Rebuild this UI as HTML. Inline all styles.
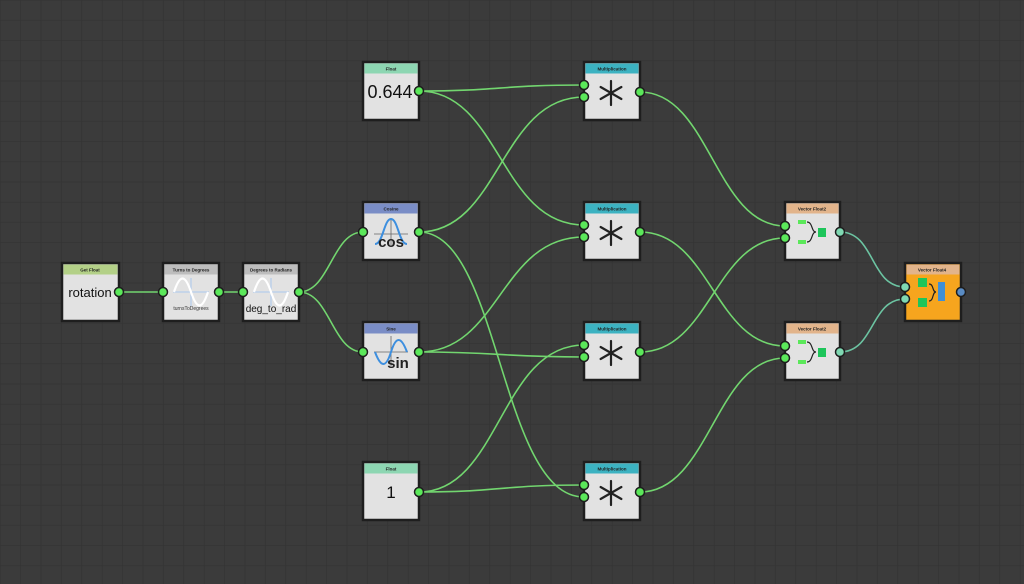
<!DOCTYPE html>
<html><head><meta charset="utf-8"><style>
html,body{margin:0;padding:0;width:1024px;height:584px;overflow:hidden;background:#3b3b3b}
</style></head><body>
<svg width="1024" height="584" xmlns="http://www.w3.org/2000/svg" font-family="Liberation Sans, sans-serif">
<defs>
<pattern id="g" width="20.4" height="20.2" patternUnits="userSpaceOnUse" x="0.5" y="0.5">
<path d="M20.4 0V20.2M0 20.2H20.4" stroke="#333" stroke-width="1.3" fill="none"/>
</pattern>
<g id="ast" stroke="#222" stroke-width="2.2" stroke-linecap="round">
<line x1="0" y1="-12" x2="0" y2="12"/>
<line x1="-10.4" y1="-6" x2="10.4" y2="6"/>
<line x1="-10.4" y1="6" x2="10.4" y2="-6"/>
</g>
</defs>
<rect width="1024" height="584" fill="#3b3b3b"/>
<rect width="1024" height="584" fill="url(#g)"/>
<g fill="none" stroke="#72d66f" stroke-width="1.6">
<path d="M119 292 H163"/>
<path d="M219 292 H243"/>
<path d="M299 292 C330 292 332 232 363 232"/>
<path d="M299 292 C330 292 332 352 363 352"/>
<path d="M419 91 C500 91 500 85 584 85"/>
<path d="M419 91 C500 91 500 225 584 225"/>
<path d="M419 232 C500 232 500 97 584 97"/>
<path d="M419 232 C500 232 500 497 584 497"/>
<path d="M419 352 C500 352 500 237 584 237"/>
<path d="M419 352 C500 352 500 357 584 357"/>
<path d="M419 492 C500 492 500 345 584 345"/>
<path d="M419 492 C500 492 500 485 584 485"/>
<path d="M640 92 C710 92 715 226 785 226"/>
<path d="M640 232 C710 232 715 346 785 346"/>
<path d="M640 352 C710 352 715 238 785 238"/>
<path d="M640 492 C710 492 715 358 785 358"/>
</g>
<g fill="none" stroke="#6cc4a2" stroke-width="1.6">
<path d="M840 232 C875 232 870 287 905 287"/>
<path d="M840 352 C875 352 870 299 905 299"/>
</g>
<g stroke="#1e1e1e" stroke-width="2.5">
<rect x="62" y="263" width="57" height="58" fill="#e2e2e2"/>
<rect x="163" y="263" width="56" height="58" fill="#e2e2e2"/>
<rect x="243" y="263" width="56" height="58" fill="#e2e2e2"/>
<rect x="363" y="62" width="56" height="58" fill="#e2e2e2"/>
<rect x="363" y="202" width="56" height="58" fill="#e2e2e2"/>
<rect x="363" y="322" width="56" height="58" fill="#e2e2e2"/>
<rect x="363" y="462" width="56" height="58" fill="#e2e2e2"/>
<rect x="584" y="62" width="56" height="58" fill="#e2e2e2"/>
<rect x="584" y="202" width="56" height="58" fill="#e2e2e2"/>
<rect x="584" y="322" width="56" height="58" fill="#e2e2e2"/>
<rect x="584" y="462" width="56" height="58" fill="#e2e2e2"/>
<rect x="785" y="202" width="55" height="58" fill="#e2e2e2"/>
<rect x="785" y="322" width="55" height="58" fill="#e2e2e2"/>
<rect x="905" y="263" width="56" height="58" fill="#f6a51e"/>
</g>
<g>
<rect x="63.5" y="264.5" width="54" height="10" fill="#b3d087"/>
<rect x="164.5" y="264.5" width="53" height="10" fill="#bdbdbd"/>
<rect x="244.5" y="264.5" width="53" height="10" fill="#bdbdbd"/>
<rect x="364.5" y="63.5" width="53" height="10" fill="#8dd6b2"/>
<rect x="364.5" y="203.5" width="53" height="10" fill="#7a8dc6"/>
<rect x="364.5" y="323.5" width="53" height="10" fill="#7a8dc6"/>
<rect x="364.5" y="463.5" width="53" height="10" fill="#8dd6b2"/>
<rect x="585.5" y="63.5" width="53" height="10" fill="#3cb2c1"/>
<rect x="585.5" y="203.5" width="53" height="10" fill="#3cb2c1"/>
<rect x="585.5" y="323.5" width="53" height="10" fill="#3cb2c1"/>
<rect x="585.5" y="463.5" width="53" height="10" fill="#3cb2c1"/>
<rect x="786.5" y="203.5" width="52" height="10" fill="#e2b48b"/>
<rect x="786.5" y="323.5" width="52" height="10" fill="#e2b48b"/>
<rect x="906.5" y="264.5" width="53" height="10" fill="#e2b48b"/>
</g>
<g font-size="4.5" font-weight="bold" fill="#222" text-anchor="middle">
<text x="90" y="271.5">Get Float</text>
<text x="191" y="271.5">Turns to Degrees</text>
<text x="271" y="271.5">Degrees to Radians</text>
<text x="391" y="70.5">Float</text>
<text x="391" y="210.5">Cosine</text>
<text x="391" y="330.5">Sine</text>
<text x="391" y="470.5">Float</text>
<text x="612" y="70.5">Multiplication</text>
<text x="612" y="210.5">Multiplication</text>
<text x="612" y="330.5">Multiplication</text>
<text x="612" y="470.5">Multiplication</text>
<text x="812" y="210.5">Vector Float2</text>
<text x="812" y="330.5">Vector Float2</text>
<text x="932" y="271.5">Vector Float4</text>
</g>
<g fill="none">
<path d="M173 292H209M191 278V306" stroke="#a9c8ef" stroke-width="1"/>
<path d="M174 292 C180 274 185 274 191 292 C197 310 202 310 208 292" stroke="#fff" stroke-width="2.2"/>
<path d="M253 292H289M271 278V306" stroke="#a9c8ef" stroke-width="1"/>
<path d="M254 292 C260 274 265 274 271 292 C277 310 282 310 288 292" stroke="#fff" stroke-width="2.2"/>
<path d="M374 234H408M391 218V246" stroke="#666" stroke-width="0.8"/>
<path d="M375 244 C383 244 384 219 391 219 C398 219 399 244 407 244" stroke="#3d8fdf" stroke-width="2"/>
<path d="M374 352H408M391 336V366" stroke="#666" stroke-width="0.8"/>
<path d="M375 352 C381 368 386 368 391 352 C396 336 401 336 407 352" stroke="#3d8fdf" stroke-width="2"/>
</g>
<text x="191" y="310" font-size="5" fill="#333" text-anchor="middle">turnsToDegrees</text>
<text x="90" y="297" font-size="13" fill="#111" text-anchor="middle">rotation</text>
<text x="271" y="312" font-size="10" fill="#111" text-anchor="middle">deg_to_rad</text>
<text x="390" y="98" font-size="18" fill="#111" text-anchor="middle">0.644</text>
<text x="391" y="498" font-size="17" fill="#111" text-anchor="middle">1</text>
<text x="391" y="247" font-size="15" font-weight="bold" fill="#222" text-anchor="middle">cos</text>
<text x="398" y="368" font-size="15" font-weight="bold" fill="#222" text-anchor="middle">sin</text>
<use href="#ast" x="611" y="93"/>
<use href="#ast" x="611" y="233"/>
<use href="#ast" x="611" y="353"/>
<use href="#ast" x="611" y="493"/>
<g>
<rect x="798" y="220" width="8" height="4" fill="#5be85a"/><rect x="798" y="240" width="8" height="4" fill="#5be85a"/>
<path d="M807 222 C813 222 811 232 816 232 C811 232 813 242 807 242" stroke="#222" stroke-width="1.2" fill="none"/>
<rect x="818" y="228" width="8" height="9" fill="#1ec55a"/>
<rect x="798" y="340" width="8" height="4" fill="#5be85a"/><rect x="798" y="360" width="8" height="4" fill="#5be85a"/>
<path d="M807 342 C813 342 811 352 816 352 C811 352 813 362 807 362" stroke="#222" stroke-width="1.2" fill="none"/>
<rect x="818" y="348" width="8" height="9" fill="#1ec55a"/>
<rect x="918" y="278" width="9" height="9" fill="#1ec55a"/><rect x="918" y="298" width="9" height="9" fill="#1ec55a"/>
<path d="M929 284 C934 284 932 292 936 292 C932 292 934 301 929 301" stroke="#222" stroke-width="1.2" fill="none"/>
<rect x="938" y="282" width="7" height="19" fill="#3f8fd6"/>
</g>
<g stroke="#1e1e1e" stroke-width="1.5" fill="#5be85a">
<circle cx="119" cy="292" r="4.5"/><circle cx="163" cy="292" r="4.5"/><circle cx="219" cy="292" r="4.5"/>
<circle cx="243" cy="292" r="4.5"/><circle cx="299" cy="292" r="4.5"/>
<circle cx="419" cy="91" r="4.5"/><circle cx="363" cy="232" r="4.5"/><circle cx="419" cy="232" r="4.5"/>
<circle cx="363" cy="352" r="4.5"/><circle cx="419" cy="352" r="4.5"/><circle cx="419" cy="492" r="4.5"/>
<circle cx="584" cy="85" r="4.5"/><circle cx="584" cy="97" r="4.5"/><circle cx="640" cy="92" r="4.5"/>
<circle cx="584" cy="225" r="4.5"/><circle cx="584" cy="237" r="4.5"/><circle cx="640" cy="232" r="4.5"/>
<circle cx="584" cy="345" r="4.5"/><circle cx="584" cy="357" r="4.5"/><circle cx="640" cy="352" r="4.5"/>
<circle cx="584" cy="485" r="4.5"/><circle cx="584" cy="497" r="4.5"/><circle cx="640" cy="492" r="4.5"/>
<circle cx="785" cy="226" r="4.5"/><circle cx="785" cy="238" r="4.5"/>
<circle cx="785" cy="346" r="4.5"/><circle cx="785" cy="358" r="4.5"/>
</g>
<g stroke="#1e1e1e" stroke-width="1.5" fill="#7fd8b2">
<circle cx="840" cy="232" r="4.5"/><circle cx="840" cy="352" r="4.5"/>
<circle cx="905" cy="287" r="4.5"/><circle cx="905" cy="299" r="4.5"/>
</g>
<circle cx="961" cy="292" r="4.5" fill="#5a8cc4" stroke="#1e1e1e" stroke-width="1.5"/>
</svg>
</body></html>
